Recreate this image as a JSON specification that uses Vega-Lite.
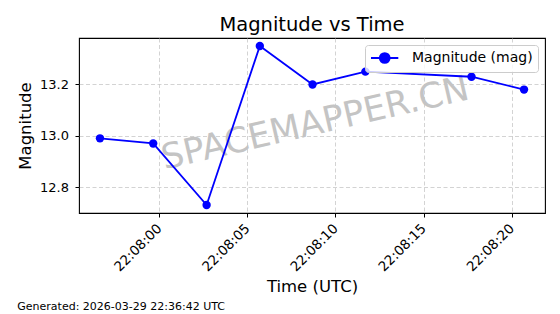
{
  "$schema": "https://vega.github.io/schema/vega-lite/v6.json",
  "width": 466,
  "height": 175,
  "autosize": {"type": "none"},
  "padding": {"left": 79, "top": 38, "right": 15, "bottom": 101},
  "background": "white",
  "title": {"text": "Magnitude vs Time", "fontSize": 19.5, "font": "DejaVu Sans", "fontWeight": "normal", "color": "black", "anchor": "middle", "baseline": "alphabetic", "offset": -12},
  "config": {
    "font": "DejaVu Sans",
    "view": {"stroke": "black", "strokeWidth": 1.1},
    "axis": {
      "domain": false,
      "grid": true,
      "gridColor": "#c8c8c8",
      "gridDash": [4, 2.5],
      "gridWidth": 0.8,
      "tickColor": "black",
      "tickSize": 4,
      "tickWidth": 1,
      "labelColor": "black",
      "labelFont": "DejaVu Sans",
      "labelFontSize": 13,
      "titleFont": "DejaVu Sans",
      "titleFontSize": 16.5,
      "titleFontWeight": "normal",
      "titleColor": "black"
    }
  },
  "encoding": {
    "x": {
      "field": "time",
      "type": "temporal",
      "scale": {
        "type": "utc",
        "domain": [
          {"year": 2026, "month": 3, "date": 29, "hours": 22, "minutes": 7, "seconds": 55, "milliseconds": 450, "utc": true},
          {"year": 2026, "month": 3, "date": 29, "hours": 22, "minutes": 8, "seconds": 21, "milliseconds": 890, "utc": true}
        ]
      },
      "axis": {
        "title": "Time (UTC)",
        "labelExpr": "utcFormat(datum.value, '%H:%M:%S')",
        "values": [
          {"year": 2026, "month": 3, "date": 29, "hours": 22, "minutes": 8, "seconds": 0, "utc": true},
          {"year": 2026, "month": 3, "date": 29, "hours": 22, "minutes": 8, "seconds": 5, "utc": true},
          {"year": 2026, "month": 3, "date": 29, "hours": 22, "minutes": 8, "seconds": 10, "utc": true},
          {"year": 2026, "month": 3, "date": 29, "hours": 22, "minutes": 8, "seconds": 15, "utc": true},
          {"year": 2026, "month": 3, "date": 29, "hours": 22, "minutes": 8, "seconds": 20, "utc": true}
        ],
        "labelAngle": -45,
        "labelAlign": "right",
        "labelBaseline": "middle",
        "labelFontSize": 13.5,
        "labelPadding": 9,
        "titlePadding": 5
      }
    },
    "y": {
      "field": "mag",
      "type": "quantitative",
      "scale": {"domain": [12.699, 13.381], "zero": false, "nice": false},
      "axis": {
        "title": "Magnitude",
        "values": [12.8, 13.0, 13.2],
        "format": ".1f",
        "labelPadding": 6.5,
        "titlePadding": 6
      }
    }
  },
  "layer": [
    {
      "data": {"values": [{"time": "2026-03-29T22:08:08.850Z", "mag": 13.048, "label": "SPACEMAPPER.CN"}]},
      "mark": {"type": "text", "font": "DejaVu Sans", "fontSize": 35, "angle": -13, "align": "center", "baseline": "middle", "color": "#c4c4c4"},
      "encoding": {"text": {"field": "label"}}
    },
    {
      "data": {"name": "main", "values": [
        {"time": "2026-03-29T22:07:56.640Z", "mag": 12.99},
        {"time": "2026-03-29T22:07:59.660Z", "mag": 12.97},
        {"time": "2026-03-29T22:08:02.690Z", "mag": 12.73},
        {"time": "2026-03-29T22:08:05.710Z", "mag": 13.35},
        {"time": "2026-03-29T22:08:08.700Z", "mag": 13.20},
        {"time": "2026-03-29T22:08:11.700Z", "mag": 13.25},
        {"time": "2026-03-29T22:08:17.720Z", "mag": 13.23},
        {"time": "2026-03-29T22:08:20.700Z", "mag": 13.18}
      ]},
      "layer": [
        {
          "mark": {"type": "line", "strokeWidth": 1.8},
          "encoding": {
            "color": {
              "datum": "Magnitude (mag)",
              "type": "nominal",
              "scale": {"range": ["#0000ff"]},
              "legend": {
                "title": null,
                "orient": "top-right",
                "offset": 7,
                "padding": 5,
                "fillColor": "rgba(255,255,255,0.8)",
                "strokeColor": "#cccccc",
                "cornerRadius": 3,
                "labelFont": "DejaVu Sans",
                "labelFontSize": 14,
                "labelColor": "black",
                "labelOffset": 26,
                "symbolSize": 196,
                "encode": {
                  "symbols": {
                    "update": {
                      "shape": {"value": "M-1,0H2.9M1.67,0A0.71,0.71,0,1,1,0.25,0A0.71,0.71,0,1,1,1.67,0"},
                      "size": {"value": 196},
                      "fill": {"value": "#0000ff"},
                      "stroke": {"value": "#0000ff"},
                      "strokeWidth": {"value": 1.8},
                      "opacity": {"value": 1}
                    }
                  }
                }
              }
            }
          }
        },
        {
          "mark": {"type": "point", "filled": true, "shape": "circle", "size": 70, "opacity": 1},
          "encoding": {"color": {"datum": "Magnitude (mag)", "type": "nominal"}}
        }
      ]
    },
    {
      "data": {"values": [{"time": "2026-03-29T22:07:51.950Z", "mag": 12.322, "label": "Generated: 2026-03-29 22:36:42 UTC"}]},
      "mark": {"type": "text", "font": "DejaVu Sans", "fontSize": 11, "align": "left", "baseline": "alphabetic", "color": "black"},
      "encoding": {"text": {"field": "label"}}
    }
  ]
}
